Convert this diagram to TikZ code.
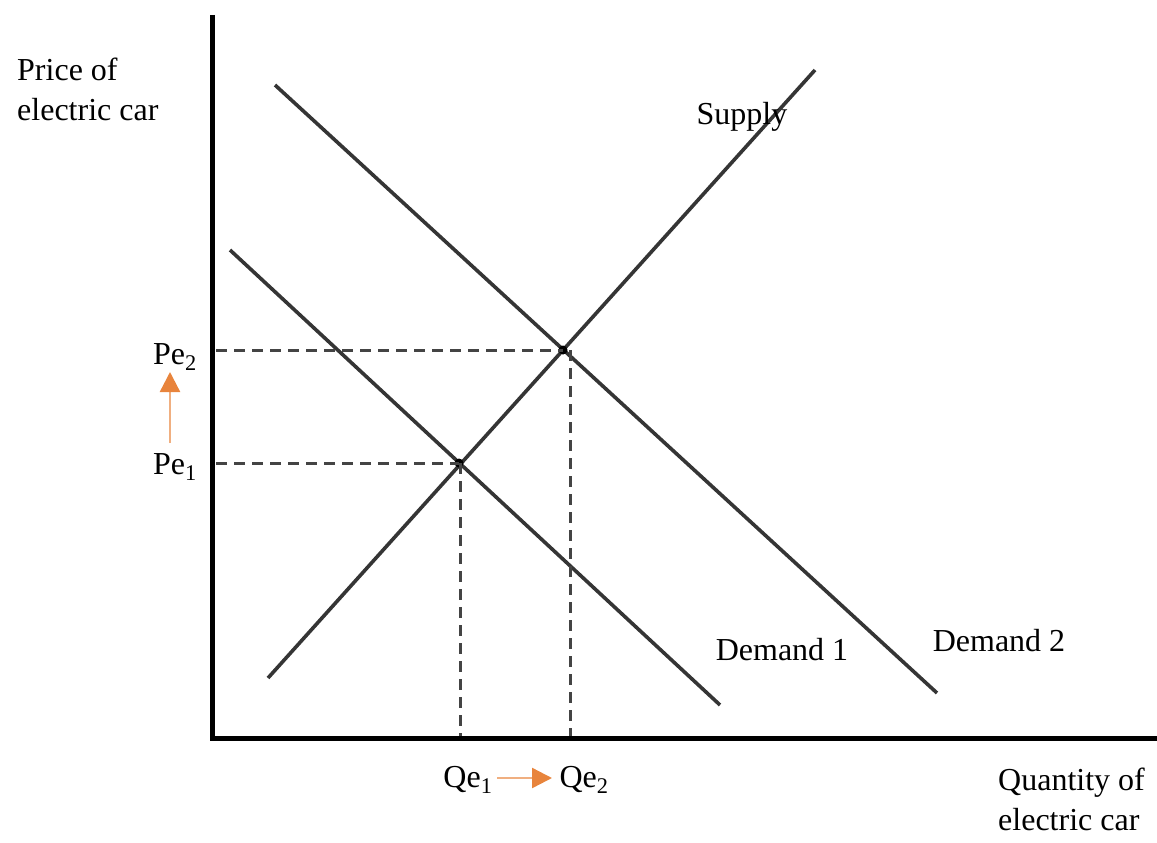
\documentclass[tikz,border=0pt]{standalone}
\usepackage{fontspec}
\setmainfont{Liberation Serif}
\usetikzlibrary{arrows.meta}
\definecolor{curvecol}{HTML}{353535}
\definecolor{dashcol}{HTML}{444444}
\definecolor{arrcol}{HTML}{E8843C}
\begin{document}
\begin{tikzpicture}[x=1pt,y=-1pt,
  lbl/.style={font=\fontsize{32}{40}\selectfont, inner sep=0pt},
  axis/.style={line width=5pt, black},
  curveline/.style={line width=3.6pt, curvecol},
  guide/.style={line width=3pt, dashcol, dash pattern=on 11pt off 7pt},
  shiftarrow/.style={line width=2.4pt, arrcol!65, -{Triangle[length=20pt,width=20pt,color=arrcol,fill=arrcol]}}]
\useasboundingbox (0,0) rectangle (1157,843);
% axes
\coordinate (ytop) at (212,15);
\coordinate (orig) at (212,738);
\coordinate (xend) at (1157,738);
\draw[axis] (ytop) -- (orig) -- (xend);
% curves
\coordinate (s1) at (268,678); \coordinate (s2) at (815,70);
\coordinate (da1) at (230,250); \coordinate (da2) at (720,705);
\coordinate (db1) at (275,85); \coordinate (db2) at (937,693);
\draw[curveline] (s1) -- (s2);
\draw[curveline] (da1) -- (da2);
\draw[curveline] (db1) -- (db2);
% equilibria
\coordinate (e1) at (459,463);
\coordinate (e2) at (563,350);
\fill[black] (e1) circle (4.5pt);
\fill[black] (e2) circle (4.5pt);
\coordinate (py1) at (216,463); \coordinate (py2) at (216,350);
\coordinate (qx1) at (460,736); \coordinate (qx2) at (570,736);
\coordinate (e1b) at (460,463);
\coordinate (e2b) at (570,350);
\draw[guide] (py1) -- (e1);
\draw[guide] (py2) -- (e2);
\draw[guide] (e1b) -- (qx1);
\draw[guide] (e2b) -- (qx2);
% labels
\node[lbl, anchor=north west, align=left] (ylab) at (17,58) {Price of\\electric car};
\node[lbl, anchor=north west, align=left] (xlab) at (998,768) {Quantity of\\electric car};
\node[lbl] (sup) at (742,117) {Supply};
\node[lbl] (d1) at (782,650) {Demand 1};
\node[lbl] (d2) at (999,641) {Demand 2};
\node[lbl] (pe2) at (175,357) {Pe\textsubscript{2}};
\node[lbl] (pe1) at (175,467) {Pe\textsubscript{1}};
\node[lbl] (qe1) at (468,780) {Qe\textsubscript{1}};
\node[lbl] (qe2) at (584,780) {Qe\textsubscript{2}};
\coordinate (ua) at (170,443);
\coordinate (ub) at (170,372);
\coordinate (ra) at (497,778);
\coordinate (rb) at (552,778);
\draw[shiftarrow] (ua) -- (ub);
\draw[shiftarrow] (ra) -- (rb);
\end{tikzpicture}
\end{document}
